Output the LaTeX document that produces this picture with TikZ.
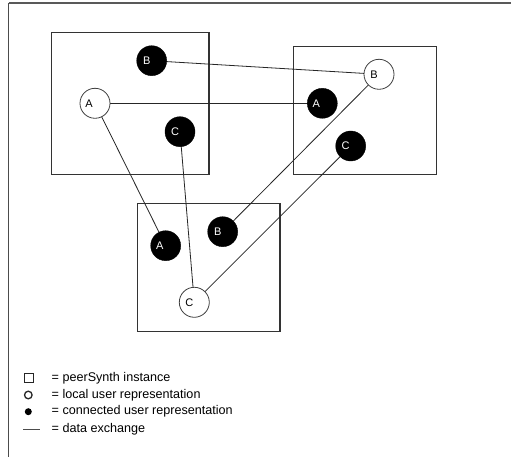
\documentclass[tikz,border=0pt]{standalone}
\usepackage{fontspec}
\setmainfont{Liberation Sans}
\begin{document}
\begin{tikzpicture}[x=1pt,y=-1pt,
  inst/.style={draw=black!80,line width=1.2pt},
  localu/.style={circle,draw=black!75,line width=0.8pt,fill=white,minimum size=30pt,inner sep=0pt},
  connu/.style={circle,draw=black,fill=black,minimum size=30pt,inner sep=0pt},
  ltr/.style={font=\fontsize{11}{11}\selectfont},
  link/.style={draw=black!85,line width=0.8pt},
  legtxt/.style={anchor=west,inner sep=0pt,font=\fontsize{12.6}{13}\selectfont}]
\useasboundingbox (0,0) rectangle (511,457);
\fill[white] (0,0) rectangle (511,457);
% outer frame
\draw[black!65,line width=1.6pt] (8.5,3.3) -- (511,3.3);
\draw[black!70,line width=1.2pt] (8.5,3.3) -- (8.5,457);
% instances
\draw[inst] (51.7,32.3) rectangle (209,174.3);
\draw[inst] (293.3,46.3) rectangle (436.7,174.3);
\draw[inst] (137.3,203.3) rectangle (280,331.7);
% connections drawn first so circles cover ends
\coordinate (pB1) at (151.7,60.7);
\coordinate (pA1) at (95,103.3);
\coordinate (pC1) at (180,131.7);
\coordinate (pB2) at (379,74.3);
\coordinate (pA2) at (322.3,103.3);
\coordinate (pC2) at (350.7,146);
\coordinate (pB3) at (222.7,231.7);
\coordinate (pA3) at (165.7,245.7);
\coordinate (pC3) at (194.3,302.3);
\draw[link] (pB1) -- (pB2);
\draw[link] (pA1) -- (pA2);
\draw[link] (pA1) -- (pA3);
\draw[link] (pC1) -- (pC3);
\draw[link] (pB2) -- (pB3);
\draw[link] (pC2) -- (pC3);
% users
\node[connu,label={[ltr,text=white,xshift=-5pt]center:B}] (B1) at (pB1) {};
\node[localu,label={[ltr,xshift=-6pt]center:A}] (A1) at (pA1) {};
\node[connu,label={[ltr,text=white,xshift=-5pt]center:C}] (C1) at (pC1) {};
\node[localu,label={[ltr,xshift=-5pt]center:B}] (B2) at (pB2) {};
\node[connu,label={[ltr,text=white,xshift=-6pt]center:A}] (A2) at (pA2) {};
\node[connu,label={[ltr,text=white,xshift=-5pt]center:C}] (C2) at (pC2) {};
\node[connu,label={[ltr,text=white,xshift=-5pt]center:B}] (B3) at (pB3) {};
\node[connu,label={[ltr,text=white,xshift=-6pt]center:A}] (A3) at (pA3) {};
\node[localu,label={[ltr,xshift=-5pt]center:C}] (C3) at (pC3) {};
% legend
\draw[black!85,line width=1pt] (24,373.8) rectangle (33,382.8);
\draw[black!85,line width=1.3pt] (28.3,395) circle (3.8);
\fill[black] (28.3,411.7) circle (3.5);
\draw[black!70,line width=1pt] (23,429.5) -- (40,429.5);
\node[legtxt] (L1) at (51.5,378.3) {= peerSynth instance};
\node[legtxt] (L2) at (51.5,395) {= local user representation};
\node[legtxt] (L3) at (51.5,411.7) {= connected user representation};
\node[legtxt] (L4) at (51.5,429.3) {= data exchange};
\end{tikzpicture}
\end{document}
